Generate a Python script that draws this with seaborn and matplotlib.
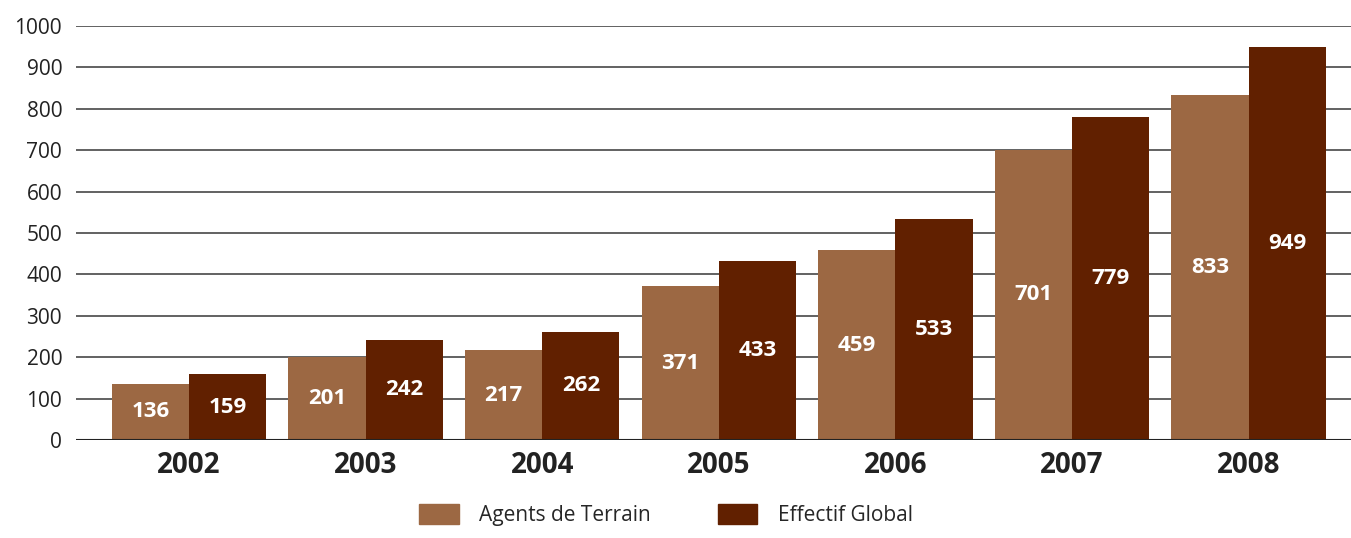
import numpy as np
import pandas as pd
import matplotlib.pyplot as plt
import seaborn as sns

years = ["2002", "2003", "2004", "2005", "2006", "2007", "2008"]
agents_terrain = [136, 201, 217, 371, 459, 701, 833]
effectif_global = [159, 242, 262, 433, 533, 779, 949]
series_names = ["Agents de Terrain", "Effectif Global"]
y_ticks = [0, 100, 200, 300, 400, 500, 600, 700, 800, 900, 1000]

palette = {"Agents de Terrain": "#9C6843", "Effectif Global": "#612000"}

df = pd.DataFrame({
    "year": years * 2,
    "value": agents_terrain + effectif_global,
    "series": [series_names[0]] * len(years) + [series_names[1]] * len(years),
})

sns.set_style("white")
plt.rcParams["font.family"] = ["Open Sans", "DejaVu Sans"]

fig = plt.figure(figsize=(13.51, 5.38), dpi=100)
ax = fig.add_axes([0.0563, 0.182, 0.9437, 0.770])

sns.barplot(
    data=df, x="year", y="value", hue="series", order=years,
    hue_order=series_names, palette=palette, width=0.875,
    saturation=1, ax=ax, legend=False, zorder=3, linewidth=0,
)

for container in ax.containers:
    ax.bar_label(container, label_type="center", color="white",
                 fontweight="bold", fontsize=16)

ax.set_ylim(0, 1000)
ax.set_xlim(-0.64, 6.58)
ax.set_yticks(y_ticks)
ax.set_yticklabels([str(t) for t in y_ticks], fontsize=15, color="#222222")
ax.tick_params(axis="y", length=0, pad=10)
ax.tick_params(axis="x", length=0, pad=8, labelsize=20)
for lbl in ax.get_xticklabels():
    lbl.set_fontweight("bold")
    lbl.set_color("#222222")

ax.grid(axis="y", color="#555555", linewidth=1.3, zorder=0)
ax.set_axisbelow(True)
for side in ["top", "right", "left", "bottom"]:
    ax.spines[side].set_visible(False)
ax.axhline(0, color="#222222", linewidth=1.5, zorder=4)
ax.set_xlabel("")
ax.set_ylabel("")

handles = [plt.Rectangle((0, 0), 1, 1, color=palette[s]) for s in series_names]
fig.legend(handles, series_names, loc="lower center", bbox_to_anchor=(0.493, -0.005),
           ncol=2, frameon=False, fontsize=15, handlelength=1.9, handleheight=1.1,
           handletextpad=1.0, columnspacing=3.2, borderpad=0.2)

fig.savefig("out.png", dpi=100)
